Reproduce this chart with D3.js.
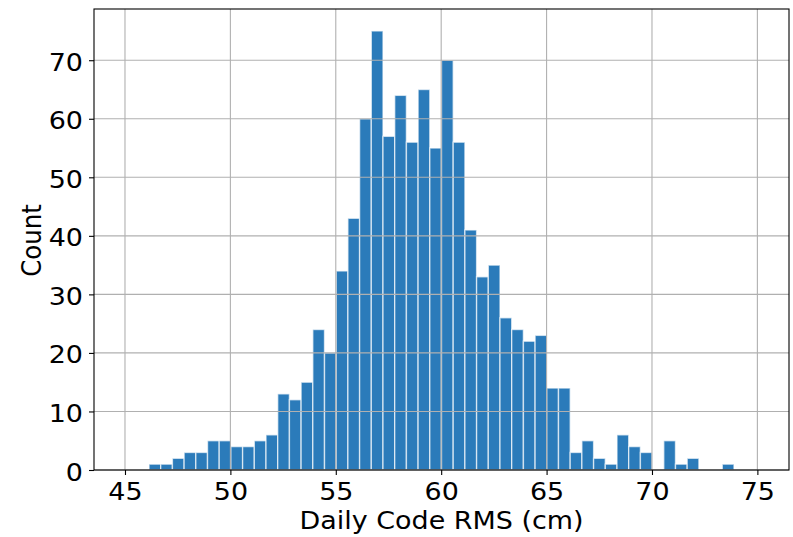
<!DOCTYPE html>
<html>
<head>
<meta charset="utf-8">
<script src="https://cdn.jsdelivr.net/npm/d3@7"></script>
<style>
  body { margin: 0; background: #fff; }
  text { font-family: "DejaVu Sans", sans-serif; }
</style>
</head>
<body>
<div id="chart"></div>
<script>
// histogram counts, 50 bins
var counts = [1, 1, 2, 3, 3, 5, 5, 4, 4, 5,
              6, 13, 12, 15, 24, 20, 34, 43, 60, 75,
              57, 64, 56, 65, 55, 70, 56, 41, 33, 35,
              26, 24, 22, 23, 14, 14, 3, 5, 2, 1,
              6, 4, 3, 0, 5, 1, 2, 0, 0, 1];
var binStart = 46.14;
var binWidth = 0.555;
var xTicks = [45, 50, 55, 60, 65, 70, 75];
var yTicks = [0, 10, 20, 30, 40, 50, 60, 70];

var bins = counts.map(function(c, i) {
  return {x0: binStart + i * binWidth, x1: binStart + (i + 1) * binWidth, count: c};
});

// the source picture is a bit wider than tall, so text is stretched sideways
var fontSize = 24.5,
    stretch = 1.1;

// set the dimensions and margins of the graph
var margin = {top: 9, right: 4, bottom: 67, left: 94},
    width = 793 - margin.left - margin.right,
    height = 537 - margin.top - margin.bottom;

var svg = d3.select("#chart")
  .append("svg")
    .attr("width", 793)
    .attr("height", 537)
  .append("g")
    .attr("transform", "translate(" + margin.left + "," + margin.top + ")");

var x = d3.scaleLinear()
  .domain([43.53, 76.5])
  .range([0, width]);

var y = d3.scaleLinear()
  .domain([0, 78.75])
  .range([height, 0]);

// bars
svg.selectAll("rect.bar")
  .data(bins.filter(function(d) { return d.count > 0; }))
  .enter()
  .append("rect")
    .attr("class", "bar")
    .attr("x", function(d) { return x(d.x0); })
    .attr("y", function(d) { return y(d.count); })
    .attr("width", function(d) { return x(d.x1) - x(d.x0); })
    .attr("height", function(d) { return y(0) - y(d.count); })
    .attr("fill", "#2b7bba")
    .attr("stroke", "#ffffff")
    .attr("stroke-opacity", 0.65)
    .attr("stroke-width", 1.4);

// grid lines (drawn on top of the bars)
svg.append("g")
  .selectAll("line")
  .data(xTicks)
  .enter()
  .append("line")
    .attr("x1", function(d) { return x(d); })
    .attr("x2", function(d) { return x(d); })
    .attr("y1", 0)
    .attr("y2", height)
    .attr("stroke", "#b0b0b0")
    .attr("stroke-width", 1.1);

svg.append("g")
  .selectAll("line")
  .data(yTicks)
  .enter()
  .append("line")
    .attr("x1", 0)
    .attr("x2", width)
    .attr("y1", function(d) { return y(d); })
    .attr("y2", function(d) { return y(d); })
    .attr("stroke", "#b0b0b0")
    .attr("stroke-width", 1.1);

// axes
var xAxis = svg.append("g")
  .attr("transform", "translate(0," + height + ")")
  .call(d3.axisBottom(x).tickValues(xTicks).tickSize(5).tickPadding(7.5).tickFormat(d3.format("d")));

var yAxis = svg.append("g")
  .call(d3.axisLeft(y).tickValues(yTicks).tickSize(5).tickPadding(6).tickFormat(d3.format("d")));

[xAxis, yAxis].forEach(function(a) {
  a.select(".domain").remove();
  a.selectAll(".tick line").attr("stroke", "#000").attr("stroke-width", 1.1);
  a.selectAll(".tick text")
    .attr("fill", "#000")
    .attr("transform", "scale(" + stretch + ",1)")
    .style("font-size", fontSize + "px")
    .style("font-family", "DejaVu Sans");
});
yAxis.selectAll(".tick text").attr("x", -11 / stretch).attr("dy", "0.41em");

// frame
svg.append("rect")
  .attr("x", 0)
  .attr("y", 0)
  .attr("width", width)
  .attr("height", height)
  .attr("fill", "none")
  .attr("stroke", "#000")
  .attr("stroke-width", 1.1);

// axis labels
svg.append("text")
  .attr("text-anchor", "middle")
  .attr("transform", "translate(" + (width / 2) + "," + (height + 59) + ") scale(" + stretch + ",1)")
  .style("font-size", fontSize + "px")
  .text("Daily Code RMS (cm)");

svg.append("text")
  .attr("text-anchor", "middle")
  .attr("transform", "translate(-53.3," + (height / 2 + 1) + ") rotate(-90) scale(1," + stretch + ")")
  .style("font-size", fontSize + "px")
  .text("Count");
</script>
</body>
</html>
